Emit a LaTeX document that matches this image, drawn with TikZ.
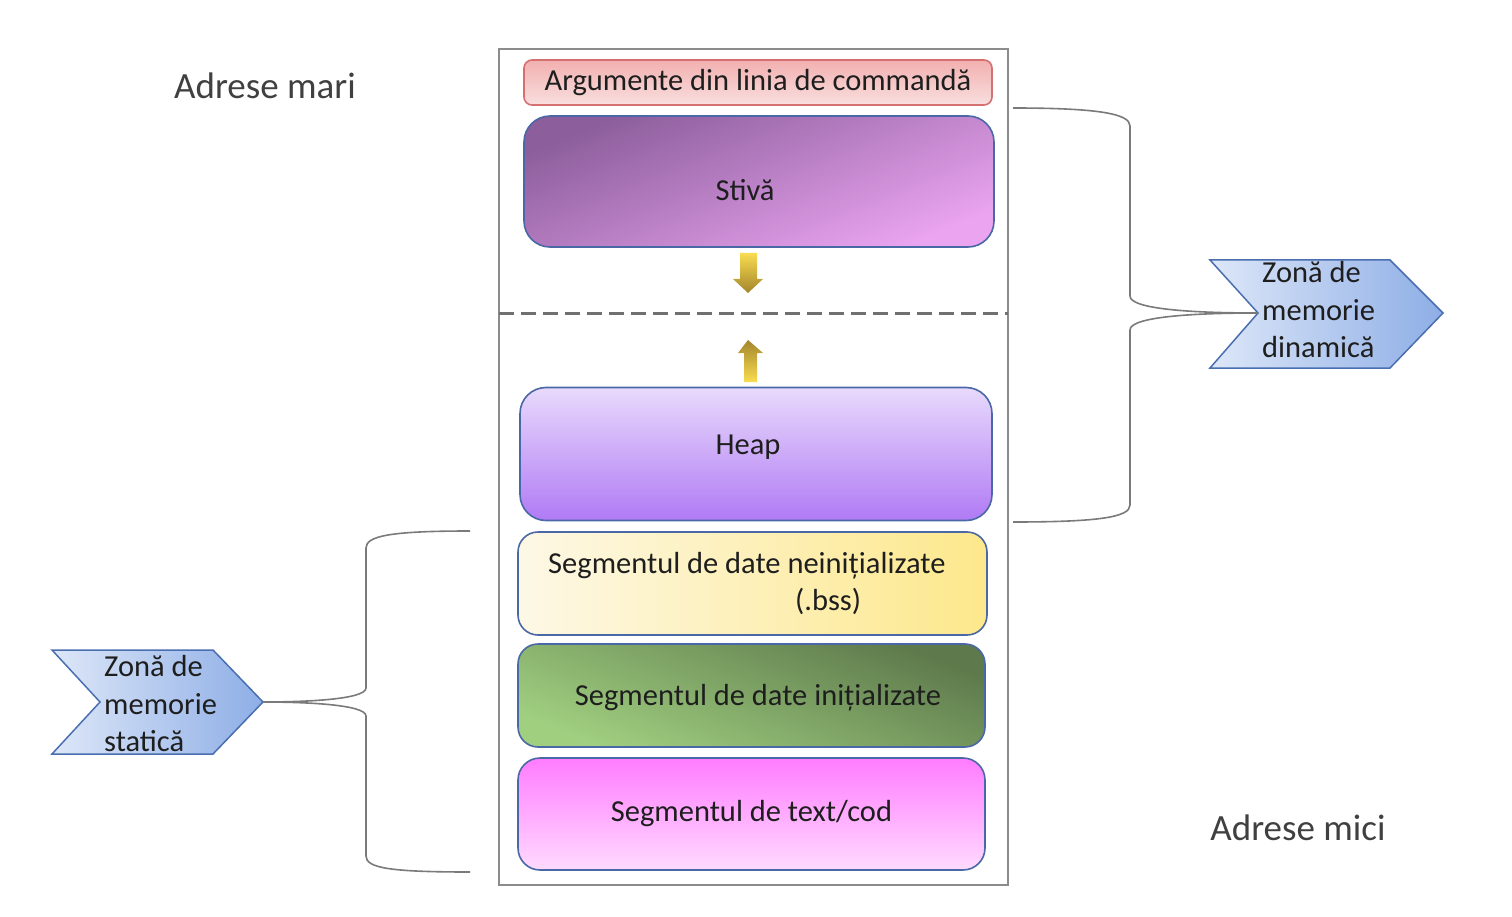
\documentclass[tikz,border=0pt]{standalone}
\usepackage{fontspec}
\setmainfont{Carlito}
\definecolor{segborder}{HTML}{4A67A6}
\definecolor{txt}{HTML}{1E1E1E}
\definecolor{lbl}{HTML}{404040}
\definecolor{outer}{HTML}{8C8C8C}
\definecolor{bracec}{HTML}{7A7A7A}
\definecolor{argtop}{HTML}{F2B0B0}
\definecolor{argbot}{HTML}{F9DEDE}
\definecolor{argbd}{HTML}{D47070}
\definecolor{stivaA}{HTML}{8C5E9C}
\definecolor{stivaB}{HTML}{EAA4F0}
\definecolor{heapA}{HTML}{E8DAFC}
\definecolor{heapB}{HTML}{B07AF4}
\definecolor{bssA}{HTML}{FDF8E6}
\definecolor{bssB}{HTML}{FDE88C}
\definecolor{initA}{HTML}{5E7A4C}
\definecolor{initB}{HTML}{A0CF80}
\definecolor{codA}{HTML}{FF7CFF}
\definecolor{codB}{HTML}{FFDAFF}
\definecolor{goldA}{HTML}{F9DC50}
\definecolor{goldB}{HTML}{A4852C}
\definecolor{chevA}{HTML}{DDE7F8}
\definecolor{chevB}{HTML}{8EAEE6}
\definecolor{chevbd}{HTML}{4A6FB0}
\begin{document}
\begin{tikzpicture}[x=1pt,y=-1pt,
  seg/.style={draw=segborder, line width=1.6pt, inner sep=0pt, text=txt,
    font=\fontsize{30.5}{37}\selectfont},
  lbltext/.style={text=lbl, inner sep=0pt, font=\fontsize{37}{44}\selectfont},
  chevtext/.style={text=txt, inner sep=0pt, align=left, anchor=west,
    font=\fontsize{30.5}{37.5}\selectfont},
  chev/.style={draw=chevbd, line width=1.5pt, left color=chevA, right color=chevB},
  bracestyle/.style={draw=bracec, line width=1.6pt},
  goldarrow/.style={draw=none}
]
\useasboundingbox (0,0) rectangle (1512,917);

% outer frame
\node[draw=outer, line width=2.8pt, minimum width=509pt, minimum height=836pt, inner sep=0pt] (frame) at (753.5,467) {};
\coordinate (dl) at (499,313);
\coordinate (dr) at (1008,313);
\draw[outer!80!black, line width=3pt, dash pattern=on 15pt off 7pt] (dl) -- (dr);

% segments
\node[seg, draw=argbd, rounded corners=8pt, top color=argtop, bottom color=argbot,
  minimum width=468pt, minimum height=45pt] (args) at (758,82.5) {Argumente din linia de commandă};
\node[seg, rounded corners=26pt, top color=stivaA, bottom color=stivaB, shading angle=22,
  minimum width=470pt, minimum height=131pt] (stiva) at (759,181.5) {};
\node[text=txt, inner sep=0pt, font=\fontsize{30.5}{37}\selectfont] at (745,190) {Stivă};
\node[seg, rounded corners=26pt, top color=heapA, bottom color=heapB,
  minimum width=472pt, minimum height=133pt] (heap) at (756,454) {};
\node[text=txt, inner sep=0pt, font=\fontsize{30.5}{37}\selectfont] at (748,447) {Heap};
\node[seg, rounded corners=20pt, left color=bssA, right color=bssB,
  minimum width=469pt, minimum height=103pt] (bss) at (752.5,583.5) {};
\node[text=txt, inner sep=0pt, align=left, anchor=north west, font=\fontsize{30.5}{37}\selectfont]
  at (548,552) {Segmentul de date neinițializate\\\hspace*{247pt}(.bss)};
\node[seg, rounded corners=20pt, top color=initA, bottom color=initB, shading angle=-22,
  minimum width=467pt, minimum height=103pt] (init) at (751.5,695.5) {};
\node[text=txt, inner sep=0pt, font=\fontsize{30.5}{37}\selectfont] at (758,698) {Segmentul de date inițializate};
\node[seg, rounded corners=22pt, top color=codA, bottom color=codB,
  minimum width=467pt, minimum height=112pt] (cod) at (751.5,814) {Segmentul de text/cod};

% growth arrows
\path[goldarrow, top color=goldA, bottom color=goldB]
  (740,253) -- (757,253) -- (757,279) -- (763,279) -- (748,293) -- (733,279) -- (740,279) -- cycle;
\path[goldarrow, top color=goldB, bottom color=goldA]
  (748,340) -- (763,353) -- (757,353) -- (757,382) -- (744,382) -- (744,353) -- (738,353) -- cycle;

% labels
\node[lbltext] (hi) at (265,86) {Adrese mari};
\node[lbltext] (lo) at (1298,828) {Adrese mici};

% right chevron (dynamic)
\draw[chev] (1210,260) -- (1390,260) -- (1443,313) -- (1390,368) -- (1210,368) -- (1258,313) -- cycle;
\coordinate (dyntip) at (1258,313);
\node[chevtext] (dyn) at (1262,310) {Zonă de\\memorie\\dinamică};

% left chevron (static)
\draw[chev] (52,650) -- (213,650) -- (263,702) -- (213,754) -- (52,754) -- (100,702) -- cycle;
\coordinate (stattip) at (263,702);
\node[chevtext] (stat) at (104,704) {Zonă de\\memorie\\statică};

% right brace
\coordinate (rb1) at (1013,108);
\coordinate (rb2) at (1013,522);
\draw[bracestyle] (rb1) .. controls (1100,108) and (1130,114) .. (1130,126)
  -- (1130,296) .. controls (1130,310) and (1200,313) .. (dyntip);
\draw[bracestyle] (dyntip) .. controls (1200,313) and (1130,316) .. (1130,330)
  -- (1130,505) .. controls (1130,517) and (1100,522) .. (rb2);

% left brace
\coordinate (lb1) at (470,531);
\coordinate (lb2) at (470,872);
\draw[bracestyle] (lb1) .. controls (390,531) and (366,536) .. (366,548)
  -- (366,688) .. controls (366,700) and (300,702) .. (stattip);
\draw[bracestyle] (stattip) .. controls (300,702) and (366,704) .. (366,716)
  -- (366,856) .. controls (366,868) and (390,872) .. (lb2);
\end{tikzpicture}
\end{document}
